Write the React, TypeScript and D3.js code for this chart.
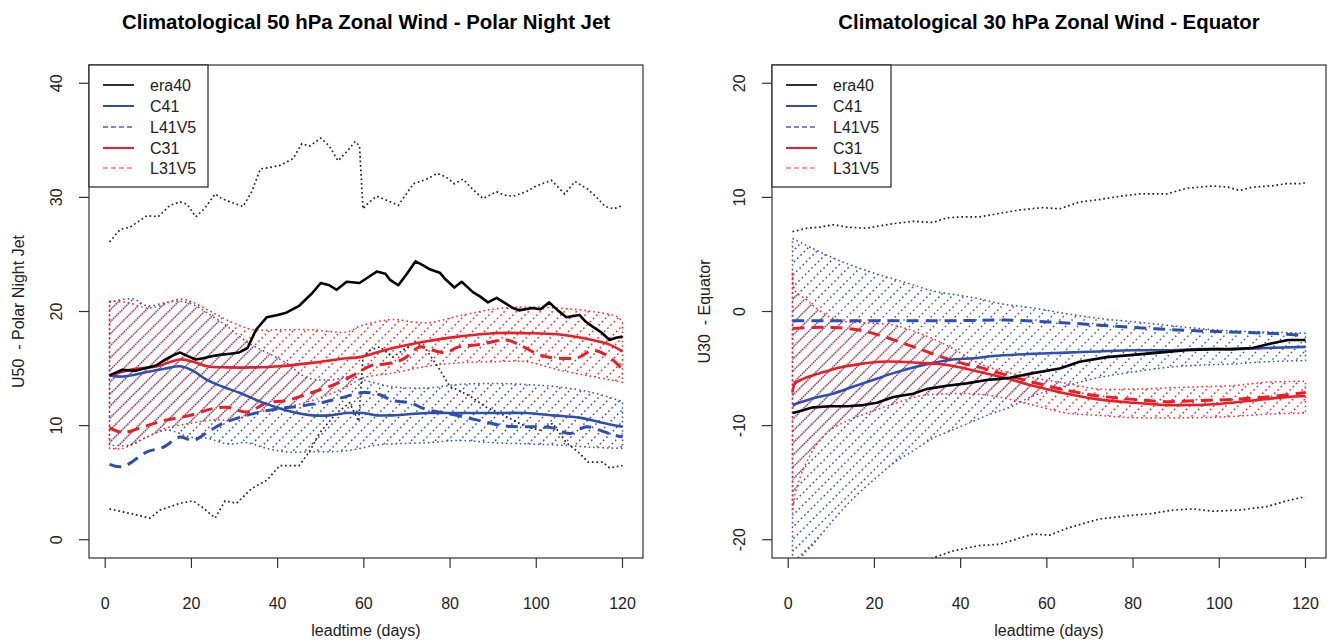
import React from 'react';
import * as d3 from 'd3';

type P = [number, number];

// ---------- axis / text content ----------
const xTicks = [0, 20, 40, 60, 80, 100, 120];
const p1YTicks = [0, 10, 20, 30, 40];
const p2YTicks = [-20, -10, 0, 10, 20];
const legendLabels = ['era40', 'C41', 'L41V5', 'C31', 'L31V5'];
const p1Title = 'Climatological 50 hPa Zonal Wind - Polar Night Jet';
const p2Title = 'Climatological 30 hPa Zonal Wind - Equator';
const p1YLabel = 'U50  - Polar Night Jet';
const p2YLabel = 'U30  - Equator';
const xLabel = 'leadtime (days)';

// ---------- Panel 1 (U50, polar night jet) ----------
const p1Era40: P[] = [[1,14.4],[4,14.9],[7,14.8],[10,15.1],[12,15.3],[14,15.8],[16,16.2],[17.4,16.4],[19.7,16.0],[21,15.8],[22.7,15.9],[25,16.1],[26.6,16.2],[29,16.3],[31,16.4],[33,16.8],[35,18.4],[37.5,19.5],[40,19.7],[42,19.9],[45,20.5],[48,21.6],[50,22.5],[52,22.3],[53.7,21.9],[56,22.6],[59,22.5],[61,23.0],[63,23.5],[65,23.3],[66,22.8],[68,22.3],[70,23.3],[72,24.4],[74,24.0],[75.3,23.7],[77.6,23.4],[79,22.8],[81,22.1],[82.7,22.6],[85.3,21.7],[87,21.3],[88.8,20.8],[90.8,21.2],[92.5,20.8],[94.6,20.3],[96,20.1],[99,20.3],[101,20.2],[103,20.8],[105,20.1],[107,19.5],[110,19.7],[111.5,19.1],[113,18.7],[115,18.2],[117,17.5],[118.5,17.7],[120,17.8]];
const p1Era40Hi: P[] = [[1,26.1],[3.5,27.2],[5.8,27.4],[9.7,28.4],[12.3,28.3],[15,29.3],[17.4,29.6],[19,29.4],[21,28.3],[23,29.0],[25.5,30.3],[27,29.9],[29,29.6],[32,29.2],[34,30.5],[36,32.5],[38,32.6],[40.5,32.8],[43.6,33.4],[45.6,34.7],[47.5,34.5],[50,35.2],[52,34.5],[54,33.2],[56,34.0],[58,34.9],[59,34.5],[59.8,29.0],[61,29.5],[63,30.1],[65,29.8],[68,29.3],[71.5,31.2],[74.6,31.6],[77,32.1],[79,31.8],[81,31.2],[83,31.6],[85,30.8],[87.6,29.9],[90.8,30.5],[92.5,30.2],[94.6,30.1],[97.7,30.5],[100,31.0],[103.5,31.5],[106.6,30.3],[109,31.4],[112,30.7],[114,30.0],[116,29.2],[118,29.0],[120,29.3]];
const p1Era40Lo: P[] = [[1,2.7],[5.8,2.3],[10.4,1.9],[12.7,2.6],[17.4,3.2],[20.4,3.4],[22.7,2.8],[25.5,1.9],[27.8,3.4],[30.5,3.2],[34,4.5],[37.5,5.2],[40.5,6.5],[45,6.5],[47.5,7.8],[49.8,9.4],[53.7,11.1],[56.7,12.0],[58.8,10.4],[59.8,16.0],[61.4,16.6],[63.7,16.9],[66.7,16.0],[69,16.6],[72,17.3],[74.6,16.6],[77.6,14.9],[80,13.4],[82,13.1],[85,12.5],[88.4,11.6],[91.5,11.1],[94.5,10.5],[97.7,9.9],[100.8,9.6],[103.8,10.2],[107,8.5],[110,7.6],[112,6.8],[115.4,6.8],[117,6.3],[120,6.5]];
const p1C41: P[] = [[1,14.4],[4,14.3],[9.7,14.7],[14,15.0],[17.4,15.2],[20.4,14.8],[23.6,14.0],[27.3,13.4],[31,12.9],[36,12.1],[40.5,11.5],[44.5,11.1],[48,10.9],[52,10.9],[56,11.1],[60,11.1],[63,10.9],[66.7,10.9],[74.6,11.1],[82,11.1],[90,11.1],[97.7,11.1],[103.8,10.9],[110,10.7],[114.7,10.3],[120,9.9]];
const p1C31: P[] = [[1,14.4],[5.8,14.9],[12,15.2],[17.4,15.8],[20.4,15.6],[23.6,15.2],[28.3,15.1],[34.3,15.1],[40.5,15.2],[48,15.5],[56,15.9],[59,16.0],[63,16.4],[66.7,16.8],[74.6,17.4],[82,17.8],[90,18.1],[97.7,18.1],[105,18.0],[113,17.5],[117,17.1],[120,16.5]];
const p1L41V5: P[] = [[1,6.6],[4,6.4],[9.7,7.7],[13.4,8.1],[17.4,9.0],[20.4,8.7],[23.6,9.4],[27.3,10.2],[31,10.7],[36,11.2],[40.5,11.5],[45,11.7],[50,12.0],[54.4,12.4],[60,12.9],[63.7,12.7],[66.7,12.2],[70.6,12.0],[74.6,11.4],[79,11.1],[84,10.7],[88.4,10.3],[92,10.0],[96,9.9],[100,9.9],[103.8,9.8],[107.7,9.3],[111.6,9.9],[114.7,9.6],[117.7,9.2],[120,9.0]];
const p1L31V5: P[] = [[1,9.8],[4,9.4],[9.7,10.0],[14.3,10.5],[19.7,10.9],[25,11.5],[28.3,11.6],[33,11.2],[37.5,12.0],[42,12.2],[48,12.9],[54.4,13.8],[58.4,14.6],[62,15.3],[65,15.4],[69,15.8],[73,16.9],[76,16.6],[79,16.4],[82,16.9],[86.8,17.1],[93,17.5],[96,17.1],[100.8,16.2],[105,15.9],[110,16.0],[113,16.6],[117,16.0],[120,14.9]];
const p1RedHi: P[] = [[1,20.9],[5,20.8],[9.7,20.3],[12.7,20.5],[17.4,21.1],[20.4,20.8],[25,19.9],[29.7,19.0],[34.3,18.4],[40.5,18.4],[48,18.4],[56,18.2],[59,18.7],[63,19.1],[66.7,19.3],[74.6,19.0],[82,19.6],[90,20.2],[97.7,20.4],[105,20.3],[113,20.0],[119,19.5],[120,19.0]];
const p1RedLo: P[] = [[1,8.0],[4,8.0],[9.7,9.0],[14.3,9.8],[19.7,10.2],[25,10.5],[29.7,10.5],[34.3,11.1],[40.5,11.5],[48,12.2],[56,13.4],[60,14.2],[66.7,14.6],[74.6,15.2],[82,15.5],[90,15.6],[97.7,15.6],[105,14.9],[113,14.3],[120,13.8]];
const p1BlueHi: P[] = [[1,20.8],[6.5,21.1],[9.7,20.5],[14.3,20.8],[17.4,20.9],[21,20.5],[23.6,19.9],[28.3,18.7],[33,17.3],[37.5,16.4],[42,15.5],[46.8,14.2],[52,14.0],[57.4,14.3],[60,14.0],[66.7,13.4],[74.6,13.3],[82,13.6],[90,13.7],[97.7,13.6],[105,13.4],[113,12.9],[120,12.1]];
const p1BlueLo: P[] = [[1,8.3],[5.8,8.3],[9.7,9.0],[14.3,9.6],[19.7,9.0],[23.6,8.9],[28.3,8.4],[33,8.5],[37.5,8.0],[42,7.7],[48,7.7],[56,7.8],[63,8.3],[66.7,8.4],[74.6,8.5],[82,8.7],[90,8.5],[97.7,8.4],[105,8.3],[113,8.1],[120,8.0]];

// ---------- Panel 2 (U30, equator) ----------
const p2Era40: P[] = [[1,-8.9],[2,-8.8],[5.8,-8.4],[9.7,-8.3],[13.6,-8.3],[17.4,-8.2],[20.6,-8.0],[24.4,-7.5],[29,-7.2],[32,-6.8],[36.8,-6.5],[41.4,-6.3],[46,-6.0],[49,-5.9],[51.4,-5.8],[56.8,-5.4],[63,-5.0],[67.6,-4.4],[73.9,-4.0],[80,-3.8],[86,-3.6],[92.4,-3.4],[98.5,-3.3],[103,-3.3],[107.7,-3.2],[112,-2.8],[116,-2.5],[120,-2.5]];
const p2Era40Hi: P[] = [[1,7.0],[4.4,7.3],[7.4,7.4],[10.4,7.6],[13.6,7.4],[18.3,7.3],[21.3,7.5],[24.4,7.7],[29,7.9],[33.6,7.8],[36.8,8.2],[40.5,8.3],[44.5,8.3],[49,8.6],[53.7,8.9],[59,9.1],[63,9.0],[67.6,9.6],[72,9.8],[77,10.1],[81.5,10.3],[87.8,10.3],[92.4,10.8],[98.5,11.0],[102,10.9],[104.7,10.6],[107.7,10.9],[112,11.0],[115.6,11.2],[119,11.2],[120,11.3]];
const p2Era40Lo: P[] = [[1,-24.8],[10,-24.2],[20,-23.6],[28,-22.6],[33.6,-21.6],[38,-21.0],[44.5,-20.5],[49,-20.4],[56.8,-19.5],[60.7,-19.6],[64.6,-19.0],[72,-18.2],[78.5,-17.9],[84.5,-17.7],[89,-17.4],[94,-17.3],[98.5,-17.5],[104.7,-17.4],[111,-17.1],[115.6,-16.6],[119,-16.3],[120,-16.3]];
const p2C41: P[] = [[1,-8.2],[5.8,-7.6],[10.4,-7.2],[15,-6.6],[19.7,-6.0],[24.4,-5.4],[29,-4.9],[33.6,-4.5],[38.2,-4.2],[43,-4.1],[47.5,-3.9],[56.8,-3.7],[64.6,-3.6],[72,-3.5],[80,-3.4],[87.8,-3.4],[95.4,-3.3],[103,-3.3],[111,-3.2],[120,-3.1]];
const p2C31: P[] = [[1,-7.1],[1.6,-6.3],[3.5,-5.9],[7.4,-5.4],[12,-4.9],[16.7,-4.6],[21.3,-4.4],[26,-4.4],[30.6,-4.5],[35,-4.6],[40,-4.9],[44.5,-5.3],[49,-5.7],[56.8,-6.5],[64.6,-7.2],[72,-7.7],[80,-8.0],[87.8,-8.2],[92,-8.2],[100,-8.1],[107.7,-7.8],[115.6,-7.5],[120,-7.4]];
const p2L41V5: P[] = [[1,-0.8],[20,-0.8],[40,-0.8],[50,-0.75],[64.6,-1.0],[80,-1.4],[95.4,-1.7],[111,-1.9],[120,-2.1]];
const p2L31V5: P[] = [[1,-1.5],[5.8,-1.4],[10.4,-1.4],[16,-1.6],[21.3,-2.1],[26,-2.7],[30.6,-3.3],[35,-3.9],[40,-4.5],[44.5,-4.9],[49,-5.4],[56.8,-6.2],[64.6,-6.9],[72,-7.4],[80,-7.7],[87.8,-7.9],[95.4,-7.8],[103,-7.7],[111,-7.5],[120,-7.1]];
const p2BlueHi: P[] = [[1,6.4],[5.8,5.5],[10.4,4.7],[15,4.0],[21.3,3.2],[27.6,2.5],[33.6,1.8],[40,1.4],[44.5,1.1],[49,0.7],[56.8,0.3],[64.6,-0.2],[72,-0.6],[80,-0.9],[87.8,-1.2],[95.4,-1.5],[103,-1.7],[111,-1.8],[120,-1.9]];
const p2BlueLo: P[] = [[1,-25.5],[2.8,-21.7],[5.8,-20.4],[10.4,-18.3],[15,-16.4],[19.7,-14.8],[24.4,-13.3],[29,-12.2],[33.6,-11.1],[38,-10.4],[43,-9.6],[47.5,-8.9],[51.4,-8.4],[56.8,-7.4],[64.6,-6.5],[72,-5.8],[80,-5.3],[87.8,-4.9],[95.4,-4.7],[103,-4.6],[111,-4.4],[120,-4.3]];
const p2RedHi: P[] = [[1,3.4],[1.6,1.8],[4.4,1.0],[5.8,0.5],[9.7,-0.5],[13.6,-0.9],[18.3,-1.0],[24.4,-1.2],[29,-1.7],[33.6,-2.4],[38,-3.2],[43,-4.3],[47.5,-5.0],[56.8,-5.8],[64.6,-6.3],[72,-6.8],[80,-6.8],[87.8,-6.7],[95.4,-6.6],[103,-6.5],[111,-6.2],[120,-6.1]];
const p2RedLo: P[] = [[1,-17.5],[1.6,-16.0],[2.8,-14.5],[4.4,-13.1],[6.7,-11.6],[9.7,-10.4],[13.6,-9.6],[18.3,-8.9],[24.4,-8.1],[30.6,-7.4],[36.8,-7.2],[42,-7.2],[47.5,-7.4],[56.8,-8.2],[64.6,-8.9],[72,-9.1],[80,-9.3],[95.4,-9.3],[103,-9.2],[111,-9.0],[120,-8.9]];

// ---------- styles ----------
const FONT = '"Liberation Sans", Arial, Helvetica, sans-serif';
const BLUE = '#2f4fae';
const RED = '#ee1c24';
const BLUE_HATCH = '#3550c0';
const RED_HATCH = '#ff2424';

interface Series {
  era: P[]; eraHi: P[]; eraLo: P[];
  c41: P[]; l41: P[]; c31: P[]; l31: P[];
  blueHi: P[]; blueLo: P[]; redHi: P[]; redLo: P[];
}

interface PanelProps {
  id: string;
  left: number; right: number; top: number; bottom: number;
  yMin: number; yMax: number; yTicks: number[];
  title: string; yLabel: string; ylabX: number;
  s: Series;
}

function Panel({ id, left, right, top, bottom, yMin, yMax, yTicks, title, yLabel, ylabX, s }: PanelProps) {
  const xPad = 0.04 * (120 - 1);
  const yPad = 0.04 * (yMax - yMin);
  const x = d3.scaleLinear().domain([1 - xPad, 120 + xPad]).range([left, right]);
  const y = d3.scaleLinear().domain([yMin - yPad, yMax + yPad]).range([bottom, top]);

  const smooth = d3.line<P>().x(d => x(d[0])).y(d => y(d[1])).curve(d3.curveCatmullRom.alpha(0.5));
  const rough = d3.line<P>().x(d => x(d[0])).y(d => y(d[1]));

  const bandPath = (hi: P[], lo: P[]) => {
    const a = smooth(hi) || '';
    const b = (smooth([...lo].reverse()) || '').replace(/^M/, 'L');
    return a + b + 'Z';
  };

  // 45 degree hatching lines across the plot region
  const step = 12;
  const hatch: string[] = [];
  const cStart = Math.floor((left + top) / step) * step;
  for (let c = cStart; c <= right + bottom + step; c += step) {
    hatch.push(`M${c - bottom},${bottom}L${c - top},${top}`);
  }
  const hatchD = hatch.join('');

  const bluePath = bandPath(s.blueHi, s.blueLo);
  const redPath = bandPath(s.redHi, s.redLo);
  const cx = (left + right) / 2;
  const cy = (top + bottom) / 2;

  const legendY = [85, 106, 127, 148, 168];
  const legendStyles = [
    { c: '#000', w: 1.6, dash: undefined as string | undefined },
    { c: BLUE, w: 2, dash: undefined },
    { c: '#4d63c8', w: 1.6, dash: '5 3' },
    { c: RED, w: 2, dash: undefined },
    { c: '#ff7a7a', w: 1.6, dash: '5 3' },
  ];

  const dots = '1.6 3';

  return (
    <g>
      <defs>
        <clipPath id={`${id}-plot`}>
          <rect x={left} y={top} width={right - left} height={bottom - top} />
        </clipPath>
        <clipPath id={`${id}-blue`}>
          <path d={bluePath} />
        </clipPath>
        <clipPath id={`${id}-red`}>
          <path d={redPath} />
        </clipPath>
      </defs>

      <text x={cx} y={29} textAnchor="middle" fontFamily={FONT} fontWeight="bold" fontSize={20.4} fill="#000">{title}</text>

      <g clipPath={`url(#${id}-plot)`}>
        {/* bands */}
        <g clipPath={`url(#${id}-blue)`}>
          <path d={hatchD} fill="none" stroke={BLUE_HATCH} strokeWidth={1.5} strokeDasharray={dots} />
        </g>
        <path d={bluePath} fill="none" stroke={BLUE_HATCH} strokeWidth={1.5} strokeDasharray={dots} />
        <g clipPath={`url(#${id}-red)`}>
          <path d={hatchD} fill="none" stroke={RED_HATCH} strokeWidth={1.5} strokeDasharray={dots} strokeDashoffset={2.3} />
        </g>
        <path d={redPath} fill="none" stroke={RED_HATCH} strokeWidth={1.5} strokeDasharray={dots} />

        {/* era40 envelope */}
        <path d={rough(s.eraHi) || ''} fill="none" stroke="#222" strokeWidth={1.7} strokeDasharray="1.7 2.8" />
        <path d={rough(s.eraLo) || ''} fill="none" stroke="#222" strokeWidth={1.7} strokeDasharray="1.7 2.8" />

        {/* model lines */}
        <path d={smooth(s.l41) || ''} fill="none" stroke={BLUE} strokeWidth={3} strokeDasharray="12 7" />
        <path d={smooth(s.l31) || ''} fill="none" stroke={RED} strokeWidth={3} strokeDasharray="12 7" />
        <path d={smooth(s.c41) || ''} fill="none" stroke={BLUE} strokeWidth={2.6} />
        <path d={smooth(s.c31) || ''} fill="none" stroke={RED} strokeWidth={2.6} />
        <path d={rough(s.era) || ''} fill="none" stroke="#000" strokeWidth={2.6} strokeLinejoin="round" />
      </g>

      {/* box */}
      <rect x={left} y={top} width={right - left} height={bottom - top} fill="none" stroke="#333" strokeWidth={1.2} />

      {/* x axis */}
      {xTicks.map(t => (
        <g key={`x${t}`}>
          <line x1={x(t)} x2={x(t)} y1={bottom} y2={bottom + 10} stroke="#333" strokeWidth={1.2} />
          <text x={x(t)} y={609} textAnchor="middle" fontFamily={FONT} fontSize={16} fill="#222">{t}</text>
        </g>
      ))}
      {/* y axis */}
      {yTicks.map(t => (
        <g key={`y${t}`}>
          <line x1={left - 10} x2={left} y1={y(t)} y2={y(t)} stroke="#333" strokeWidth={1.2} />
          <text transform={`translate(${left - 27},${y(t)}) rotate(-90)`} textAnchor="middle" fontFamily={FONT} fontSize={16} fill="#222">{t}</text>
        </g>
      ))}

      <text x={cx} y={636} textAnchor="middle" fontFamily={FONT} fontSize={16} fill="#222">{xLabel}</text>
      <text transform={`translate(${ylabX},${cy}) rotate(-90)`} textAnchor="middle" fontFamily={FONT} fontSize={16} fill="#222" style={{ whiteSpace: 'pre' }}>{yLabel}</text>

      {/* legend */}
      <rect x={left} y={top} width={119} height={122} fill="#fff" stroke="#222" strokeWidth={1.2} />
      {legendLabels.map((lab, i) => (
        <g key={lab}>
          <line x1={left + 14} x2={left + 45} y1={legendY[i]} y2={legendY[i]} stroke={legendStyles[i].c} strokeWidth={legendStyles[i].w} strokeDasharray={legendStyles[i].dash} />
          <text x={left + 61} y={legendY[i] + 5.5} fontFamily={FONT} fontSize={16} fill="#222">{lab}</text>
        </g>
      ))}
    </g>
  );
}

export default function App() {
  const s1: Series = {
    era: p1Era40, eraHi: p1Era40Hi, eraLo: p1Era40Lo,
    c41: p1C41, l41: p1L41V5, c31: p1C31, l31: p1L31V5,
    blueHi: p1BlueHi, blueLo: p1BlueLo, redHi: p1RedHi, redLo: p1RedLo,
  };
  const s2: Series = {
    era: p2Era40, eraHi: p2Era40Hi, eraLo: p2Era40Lo,
    c41: p2C41, l41: p2L41V5, c31: p2C31, l31: p2L31V5,
    blueHi: p2BlueHi, blueLo: p2BlueLo, redHi: p2RedHi, redLo: p2RedLo,
  };
  return (
    <div style={{ position: 'absolute', left: 0, top: 0, width: 1331, height: 644, background: '#fff' }}>
      <svg width={1331} height={644} viewBox="0 0 1331 644" style={{ display: 'block' }}>
        <rect width={1331} height={644} fill="#fff" />
        <Panel id="p1" left={89} right={643} top={65} bottom={558} yMin={0} yMax={40} yTicks={p1YTicks}
          title={p1Title} yLabel={p1YLabel} ylabX={24} s={s1} />
        <Panel id="p2" left={772} right={1326} top={65} bottom={558} yMin={-20} yMax={20} yTicks={p2YTicks}
          title={p2Title} yLabel={p2YLabel} ylabX={710} s={s2} />
      </svg>
    </div>
  );
}
